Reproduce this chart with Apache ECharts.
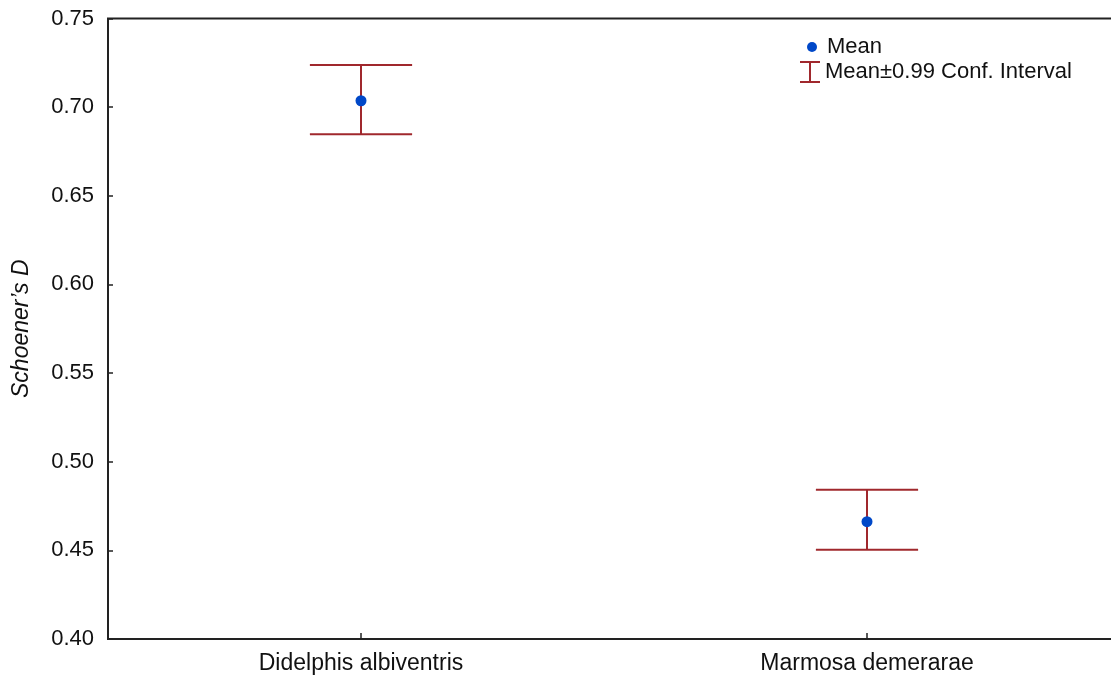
<!DOCTYPE html>
<html>
<head>
<meta charset="utf-8">
<script src="https://cdn.jsdelivr.net/npm/echarts@6/dist/echarts.min.js"></script>
<style>
html,body{margin:0;padding:0;background:#fff;}
#chart{width:1111px;height:679px;}
</style>
</head>
<body>
<div id="chart"></div>
<script>
var categories = ['Didelphis albiventris', 'Marmosa demerarae'];
var means = [0.7036, 0.4662];
var lowerCI = [0.6847, 0.4504];
var upperCI = [0.7238, 0.4842];
var yTicks = [0.40, 0.45, 0.50, 0.55, 0.60, 0.65, 0.70, 0.75];

var BLUE = '#0048c8';
var RED = '#a0282d';
var FONT = 'Liberation Sans, Arial, sans-serif';

var errData = categories.map(function (c, i) { return [i, lowerCI[i], upperCI[i]]; });

var chart = echarts.init(document.getElementById('chart'));
chart.setOption({
  animation: false,
  backgroundColor: '#fff',
  grid: {
    left: 108, top: 18.5, width: 1012, height: 620.5,
    outerBoundsMode: 'none',
    containLabel: false,
    show: true, borderColor: '#222', borderWidth: 2, backgroundColor: 'transparent'
  },
  legend: [
    {
      data: [{ name: 'Mean', icon: 'circle', itemStyle: { color: BLUE } }],
      left: 807, top: 36, padding: 0,
      itemWidth: 20, itemHeight: 10,
      selectedMode: false,
      textStyle: { fontFamily: FONT, fontSize: 22, color: '#111' }
    },
    {
      data: [{
        name: 'Mean\u00b10.99 Conf. Interval',
        icon: 'path://M0,0h20v2h-20z M9,2h2v18h-2z M0,20h20v2h-20z',
        itemStyle: { color: RED, borderWidth: 0 }
      }],
      left: 800, top: 61, padding: 0,
      itemWidth: 20, itemHeight: 22,
      selectedMode: false,
      textStyle: { fontFamily: FONT, fontSize: 22, color: '#111' }
    }
  ],
  xAxis: {
    type: 'category',
    data: categories,
    axisLine: { show: false },
    axisTick: { show: true, inside: true, alignWithLabel: true, length: 6, lineStyle: { color: '#222', width: 1.5 } },
    axisLabel: { fontFamily: FONT, fontSize: 23, color: '#111', margin: 13 },
    splitLine: { show: false }
  },
  yAxis: {
    type: 'value',
    min: 0.40, max: 0.75, interval: 0.05,
    name: 'Schoener\u2019s D',
    nameLocation: 'middle',
    nameGap: 75,
    nameTextStyle: { fontFamily: FONT, fontSize: 23, fontStyle: 'italic', color: '#111' },
    axisLine: { show: false },
    axisTick: { show: true, inside: true, length: 5, lineStyle: { color: '#222', width: 1.5 } },
    axisLabel: {
      fontFamily: FONT, fontSize: 22, color: '#111', margin: 14,
      formatter: function (v) {
        for (var k = 0; k < yTicks.length; k++) {
          if (Math.abs(yTicks[k] - v) < 1e-9) return yTicks[k].toFixed(2);
        }
        return '';
      }
    },
    splitLine: { show: false }
  },
  series: [
    {
      name: 'Mean\u00b10.99 Conf. Interval',
      type: 'custom',
      itemStyle: { color: RED },
      data: errData,
      encode: { x: 0, y: [1, 2] },
      z: 2,
      renderItem: function (params, api) {
        var i = api.value(0);
        var lo = api.coord([i, api.value(1)]);
        var hi = api.coord([i, api.value(2)]);
        var hw = api.size([1, 0])[0] * 0.101;
        var st = { stroke: RED, lineWidth: 2 };
        return {
          type: 'group',
          children: [
            { type: 'line', shape: { x1: hi[0] - hw, y1: hi[1], x2: hi[0] + hw, y2: hi[1] }, style: st },
            { type: 'line', shape: { x1: hi[0], y1: hi[1], x2: lo[0], y2: lo[1] }, style: st },
            { type: 'line', shape: { x1: lo[0] - hw, y1: lo[1], x2: lo[0] + hw, y2: lo[1] }, style: st }
          ]
        };
      }
    },
    {
      name: 'Mean',
      type: 'scatter',
      data: means,
      symbol: 'circle',
      symbolSize: 11,
      itemStyle: { color: BLUE, opacity: 1 },
      z: 5
    }
  ]
});
</script>
</body>
</html>
